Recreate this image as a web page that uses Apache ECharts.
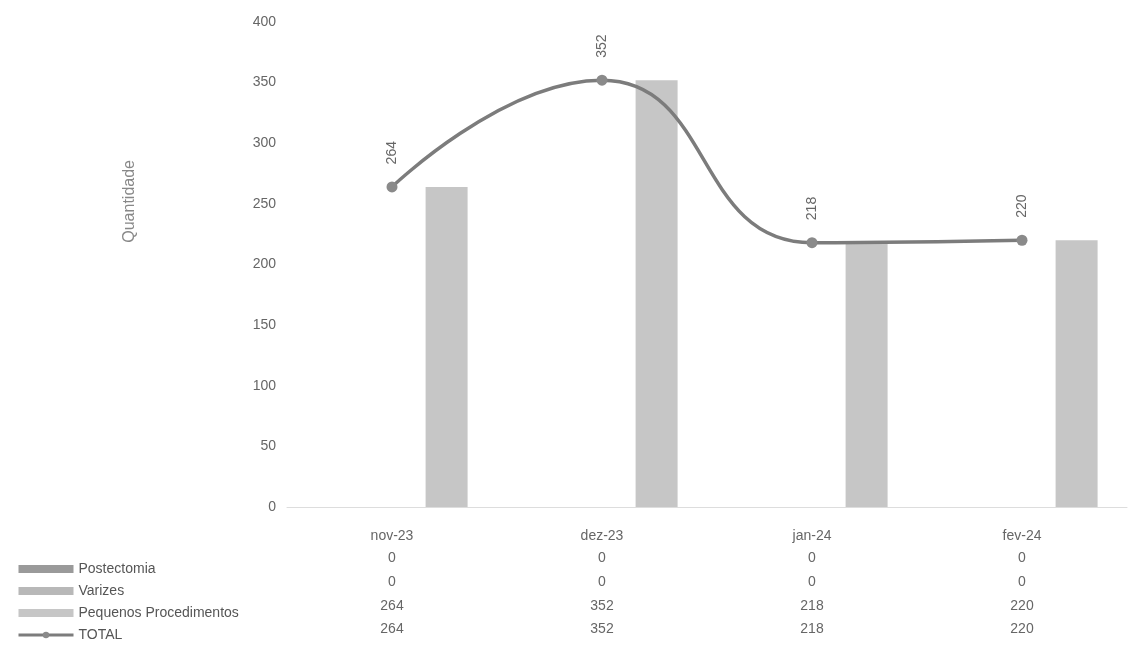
<!DOCTYPE html>
<html><head><meta charset="utf-8">
<script src="https://cdn.jsdelivr.net/npm/echarts@6/dist/echarts.min.js"></script>
<style>html,body{margin:0;padding:0;background:#fff}#c{width:1128px;height:665px}</style>
</head><body><div id="c"></div>
<script>
const categories = ['nov-23', 'dez-23', 'jan-24', 'fev-24'];
const postectomia = [0, 0, 0, 0];
const varizes = [0, 0, 0, 0];
const pequenos = [264, 352, 218, 220];
const total = [264, 352, 218, 220];
const yTicks = [0, 50, 100, 150, 200, 250, 300, 350, 400];

const font = 'Liberation Sans, Arial, sans-serif';
const txt = '#666';
const chart = echarts.init(document.getElementById('c'));

const tableRows = [postectomia, varizes, pequenos, total];
const rowOffsets = [22, 46, 70, 93];
const extraAxes = tableRows.map((arr, i) => ({
  type: 'category', data: categories, position: 'bottom', offset: rowOffsets[i],
  axisLine: {show: false}, axisTick: {show: false},
  axisLabel: {margin: 22, fontFamily: font, fontSize: 14, color: txt,
    formatter: (v, idx) => String(arr[idx])}
}));

chart.setOption({
  animation: false,
  textStyle: {fontFamily: font},
  grid: {left: 287, right: 1, top: 22, bottom: 158},
  xAxis: [{
    type: 'category', data: categories,
    axisLine: {lineStyle: {color: '#ddd'}}, axisTick: {show: false},
    axisLabel: {margin: 22, fontFamily: font, fontSize: 14, color: txt}
  }].concat(extraAxes),
  yAxis: {
    type: 'value', min: yTicks[0], max: yTicks[yTicks.length - 1], interval: 50,
    splitLine: {show: false}, axisLine: {show: false}, axisTick: {show: false},
    axisLabel: {margin: 11, fontFamily: font, fontSize: 14, color: txt}
  },
  legend: {
    orient: 'vertical', left: 12, top: 557, itemWidth: 55, itemHeight: 8, itemGap: 8,
    textStyle: {fontFamily: font, fontSize: 14, color: '#555', lineHeight: 14},
    data: [
      {name: 'Postectomia', icon: 'rect'},
      {name: 'Varizes', icon: 'rect'},
      {name: 'Pequenos Procedimentos', icon: 'rect'},
      {name: 'TOTAL', lineStyle: {width: 3}}
    ]
  },
  graphic: [{
    type: 'text', left: 122, top: 160, rotation: Math.PI / 2,
    style: {text: 'Quantidade', font: '16px ' + font, fill: '#888'}
  }],
  series: [
    {name: 'Postectomia', type: 'bar', data: postectomia, barWidth: 42, barGap: '30%',
     itemStyle: {color: '#9a9a9a'}},
    {name: 'Varizes', type: 'bar', data: varizes, barWidth: 42, barGap: '30%',
     itemStyle: {color: '#b8b8b8'}},
    {name: 'Pequenos Procedimentos', type: 'bar', data: pequenos, barWidth: 42, barGap: '30%',
     itemStyle: {color: '#c6c6c6'}},
    {name: 'TOTAL', type: 'line', data: total, smooth: 0.5, symbol: 'circle', symbolSize: 11,
     lineStyle: {color: '#7c7c7c', width: 3.5}, itemStyle: {color: '#8a8a8a'},
     label: {show: true, position: 'top', rotate: 90, distance: 17, fontFamily: font,
       fontSize: 14, color: txt, align: 'left', verticalAlign: 'middle'}}
  ]
});
</script></body></html>
